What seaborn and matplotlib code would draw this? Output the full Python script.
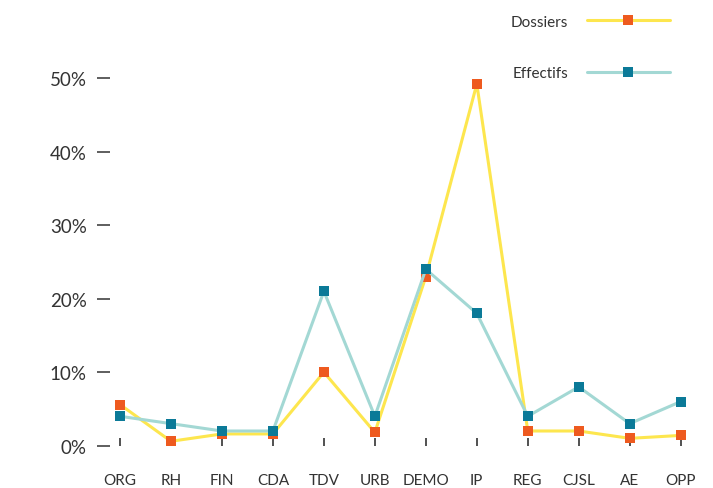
import matplotlib
matplotlib.use("Agg")
import matplotlib.pyplot as plt
import seaborn as sns
import pandas as pd
from matplotlib.ticker import FuncFormatter

categories = ["ORG", "RH", "FIN", "CDA", "TDV", "URB", "DEMO", "IP", "REG", "CJSL", "AE", "OPP"]
dossiers = [5.6, 0.6, 1.6, 1.6, 10.0, 1.8, 23.0, 49.2, 2.0, 2.0, 1.0, 1.4]
effectifs = [4.0, 3.0, 2.0, 2.0, 21.0, 4.0, 24.0, 18.0, 4.0, 8.0, 3.0, 6.0]
yticks = [0, 10, 20, 30, 40, 50]

sns.set_theme(style="white")
plt.rcParams["font.family"] = ["Lato", "DejaVu Sans"]

text_color = "#333333"
series = [
    ("Dossiers", dossiers, "#fde64e", "#ee5a1f"),
    ("Effectifs", effectifs, "#a3d8d4", "#0b7a98"),
]

fig = plt.figure(figsize=(7.13, 4.89), dpi=100)
ax = fig.add_axes([0.154, 0.0865, 0.815, 0.8270])

for name, values, line_color, marker_color in series:
    df = pd.DataFrame({"cat": range(len(categories)), "val": values})
    sns.lineplot(
        data=df, x="cat", y="val", ax=ax, sort=False,
        color=line_color, linewidth=2.2, marker="s", markersize=6.5,
        markerfacecolor=marker_color, markeredgecolor=marker_color,
        markeredgewidth=0, label=name,
    )

ax.set_xlim(-0.2, len(categories) - 0.8)
ax.set_ylim(0, 55)
ax.set_xticks(range(len(categories)))
ax.set_xticklabels(categories)
ax.set_yticks(yticks)
ax.yaxis.set_major_formatter(FuncFormatter(lambda v, _: f"{int(v)}%"))
ax.set_xlabel("")
ax.set_ylabel("")
for s in ax.spines.values():
    s.set_visible(False)

ax.tick_params(axis="x", direction="in", length=6, width=1.2, color=text_color,
               pad=20, labelsize=11, labelcolor=text_color, bottom=True)
ax.tick_params(axis="y", direction="out", length=9.5, width=1.1, color=text_color,
               pad=7, labelsize=13.5, labelcolor=text_color, left=True)

handles, labels = ax.get_legend_handles_labels()
leg = ax.legend(
    handles, labels, markerfirst=False, frameon=False,
    handlelength=5.4, labelspacing=2.45, handletextpad=1.25,
    fontsize=11, loc="upper left",
    bbox_to_anchor=(497 / 713, 1 - 2 / 489), bbox_transform=fig.transFigure,
)
for t in leg.get_texts():
    t.set_color(text_color)

fig.savefig("out.png", dpi=100)
